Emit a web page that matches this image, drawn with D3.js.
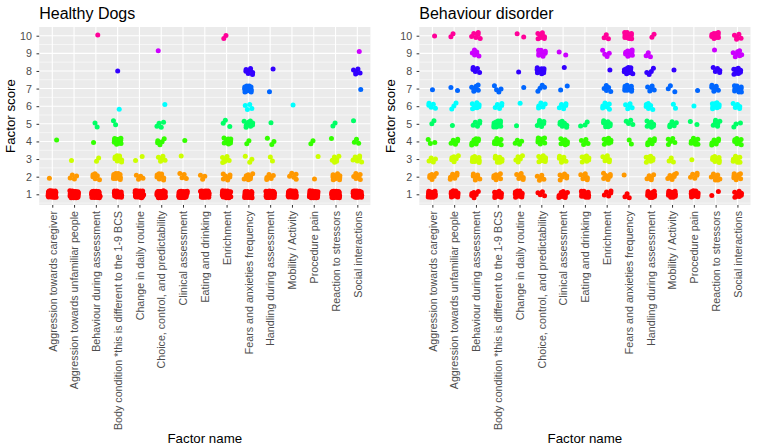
<!DOCTYPE html>
<html><head><meta charset="utf-8">
<script src="https://cdn.jsdelivr.net/npm/d3@7"></script>
<style>body{margin:0;background:#fff}text{font-family:"Liberation Sans",Arial,sans-serif}</style>
</head><body><svg id="c" width="757" height="447"></svg>
<script>
const factors = ["Aggression towards caregiver","Aggression towards unfamiliar people","Behaviour during assessment","Body condition *this is different to the 1-9 BCS","Change in daily routine","Choice, control, and predictability","Clinical assessment","Eating and drinking","Enrichment","Fears and anxieties frequency","Handling during assessment","Mobility / Activity","Procedure pain","Reaction to stressors","Social interactions"];
const scoreTicks = [1,2,3,4,5,6,7,8,9,10];
const panelTitles = ["Healthy Dogs","Behaviour disorder"];
// number of dogs per factor (rows) at score 1..10 (columns)
const healthyCounts = [
 [40,1,0,1,0,0,0,0,0,0],
 [40,4,1,0,0,0,0,0,0,0],
 [40,6,2,1,2,0,0,0,0,1],
 [20,12,8,12,2,1,0,1,0,0],
 [40,4,2,0,0,0,0,0,0,0],
 [40,8,6,5,4,1,0,0,1,0],
 [40,4,1,1,0,0,0,0,0,0],
 [40,3,0,0,0,0,0,0,0,0],
 [40,7,7,9,3,0,0,0,0,2],
 [25,8,3,2,10,4,12,7,0,0],
 [40,6,2,3,1,0,1,1,0,0],
 [40,5,0,0,0,1,0,0,0,0],
 [40,1,1,2,0,0,0,0,0,0],
 [40,10,6,1,2,0,0,0,0,0],
 [35,7,8,3,1,0,1,5,1,0]
];
const disorderCounts = [
 [15,6,4,3,2,5,1,0,0,1],
 [15,7,6,6,1,3,2,0,0,2],
 [6,7,10,9,5,8,7,5,6,6],
 [12,7,10,8,12,5,4,0,0,0],
 [14,6,5,4,1,1,1,1,0,2],
 [4,5,10,10,7,5,4,10,10,8],
 [12,6,7,8,7,6,2,1,2,0],
 [15,6,8,5,3,0,0,0,0,0],
 [5,8,7,8,9,7,5,1,4,3],
 [3,1,0,2,4,5,10,12,10,14],
 [12,5,8,7,8,6,5,4,3,2],
 [14,7,3,5,6,2,3,1,0,0],
 [14,5,1,9,2,1,1,0,0,0],
 [2,8,9,8,6,9,7,5,1,10],
 [9,9,9,8,3,5,10,10,7,5]
];
const scoreColors = ["#FF0000","#FF9900","#CCFF00","#33FF00","#00FF66","#00FFFF","#0066FF","#3300FF","#CC00FF","#FF0099"];

const svg = d3.select("#c");
svg.append("rect").attr("width",757).attr("height",447).attr("fill","#fff");
const pTop = 27, pBottom = 205;
const panels = [{x0:39.2,x1:370.4,counts:healthyCounts,title:panelTitles[0]},
                {x0:419.3,x1:750.5,counts:disorderCounts,title:panelTitles[1]}];
const y = d3.scaleLinear().domain([0.393,10.494]).range([pBottom,pTop]);
const color = d3.scaleOrdinal().domain(scoreTicks).range(scoreColors);

panels.forEach((p,pi)=>{
  const g = svg.append("g");
  const x = d3.scalePoint().domain(factors).range([p.x0,p.x1]).padding(0.6);
  const step = x.step();
  g.append("rect").attr("x",p.x0).attr("y",pTop).attr("width",p.x1-p.x0).attr("height",pBottom-pTop).attr("fill","#EBEBEB");
  const minor = d3.range(0.5,10.6,1).filter(v=>v>y.domain()[0]&&v<y.domain()[1]);
  g.selectAll(".mn").data(minor).join("line").attr("x1",p.x0).attr("x2",p.x1)
    .attr("y1",d=>y(d)).attr("y2",d=>y(d)).attr("stroke","#fff").attr("stroke-width",0.55);
  g.selectAll(".mjy").data(scoreTicks).join("line").attr("x1",p.x0).attr("x2",p.x1)
    .attr("y1",d=>y(d)).attr("y2",d=>y(d)).attr("stroke","#fff").attr("stroke-width",1.1);
  g.selectAll(".mjx").data(factors).join("line").attr("y1",pTop).attr("y2",pBottom)
    .attr("x1",d=>x(d)).attr("x2",d=>x(d)).attr("stroke","#fff").attr("stroke-width",1.1);
  const pts = [];
  p.counts.forEach((row,fi)=>{
    row.forEach((n,si)=>{
      const s1 = (fi*0.6180339 + si*0.4142135 + pi*0.27) % 1;
      const s2 = (fi*0.3247 + si*0.7071 + pi*0.53) % 1;
      for(let k=0;k<n;k++){
        const u = (s1 + 0.7548776662*(k+1)) % 1;
        const v = (s2 + 0.5698402910*(k+1)) % 1;
        pts.push({f:factors[fi], s:scoreTicks[si], du:(2*u-1)*0.2, dv:(2*v-1)*0.2});
      }
    });
  });
  g.selectAll("circle").data(pts).join("circle")
    .attr("cx",d=>x(d.f)+d.du*step).attr("cy",d=>y(d.s+d.dv)).attr("r",2.5)
    .attr("fill",d=>color(d.s));
  const ya = g.append("g").attr("transform",`translate(${p.x0},0)`)
    .call(d3.axisLeft(y).tickValues(scoreTicks).tickSize(2.7).tickPadding(4.5));
  ya.select(".domain").remove();
  ya.selectAll("line").attr("stroke","#333");
  ya.selectAll("text").attr("fill","#4D4D4D").attr("font-size","10.7px").style("font-family","Liberation Sans, Arial, sans-serif");
  const xa = g.append("g").attr("transform",`translate(0,${pBottom})`)
    .call(d3.axisBottom(x).tickSize(2.7).tickPadding(3));
  xa.select(".domain").remove();
  xa.selectAll("line").attr("stroke","#333");
  xa.selectAll("text").attr("fill","#4D4D4D").attr("font-size","10.7px").style("font-family","Liberation Sans, Arial, sans-serif")
    .attr("text-anchor","end").attr("transform","rotate(-90)").attr("x",-6).attr("y",0).attr("dy","0.35em");
  g.append("text").attr("x",p.x0).attr("y",18.5).attr("font-size","16px").attr("fill","#000").text(p.title);
  g.append("text").attr("transform",`translate(${p.x0-28.5},${(pTop+pBottom)/2}) rotate(-90)`)
    .attr("text-anchor","middle").attr("dy","0.35em").attr("font-size","13.3px").attr("fill","#000").text("Factor score");
  g.append("text").attr("x",(p.x0+p.x1)/2).attr("y",443).attr("text-anchor","middle")
    .attr("font-size","13.3px").attr("fill","#000").text("Factor name");
});
</script></body></html>
